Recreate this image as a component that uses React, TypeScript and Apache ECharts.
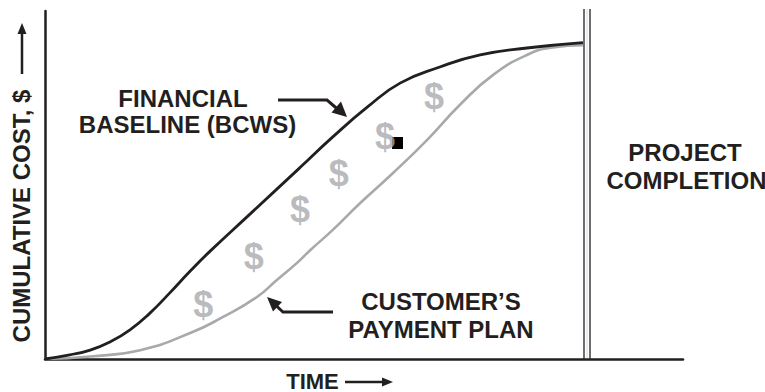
import React, { useEffect, useRef } from "react";
import * as echarts from "echarts";

// Financial baseline (BCWS) – cumulative cost vs time (% of project)
const baselineTime = [0, 4.6, 8.4, 12.1, 15.8, 19.5, 23.2, 27.0, 30.7, 38.1, 47.4, 53.5, 59.9, 66.0, 73.4, 80.9, 89.6, 100];
const baselineCost = [0, 1.3, 2.8, 5.4, 9.2, 14.5, 20.9, 27.8, 34.1, 45.8, 60.5, 70.2, 79.6, 87.2, 92.3, 96.1, 98.3, 100];

// Customer's payment plan
const paymentTime = [0, 8.4, 17.7, 27.0, 33.1, 39.4, 43.1, 46.8, 49.3, 53.5, 58.6, 64.7, 71.0, 77.1, 83.3, 89.6, 94.4, 100];
const paymentCost = [0, 0.8, 2.8, 8.2, 13.3, 19.6, 25.0, 30.3, 34.4, 40.8, 49.3, 58.8, 69.2, 80.3, 89.8, 96.1, 98.5, 99.2];

// "$" markers between the curves
const dollarTime = [29.4, 38.8, 47.4, 54.6, 63.2, 72.3];
const dollarCost = [17.1, 32.3, 47.2, 58.5, 70.3, 82.9];

const INK = "#231f20";
const GREY = "#a7a9ac";
const FONT = '"Liberation Sans", Arial, Helvetica, sans-serif';

export default function App() {
  const ref = useRef<HTMLDivElement>(null);

  useEffect(() => {
    if (!ref.current) return;
    document.body.style.margin = "0";
    const chart = echarts.init(ref.current, null, { renderer: "svg" });

    const txt = (text: string, x: number, y: number, size = 24, extra: any = {}) => ({
      type: "text",
      x,
      y,
      ...extra,
      style: {
        text,
        fill: INK,
        font: `bold ${size}px ${FONT}`,
        align: "center",
        verticalAlign: "middle",
      },
    });

    const option: any = {
      animation: false,
      backgroundColor: "#ffffff",
      grid: { left: 45, right: 82, top: 11, bottom: 33 },
      xAxis: {
        type: "value",
        min: 0,
        max: 118.6,
        axisLine: { show: true, lineStyle: { color: INK, width: 2.5 } },
        axisTick: { show: false },
        axisLabel: { show: false },
        splitLine: { show: false },
      },
      yAxis: {
        type: "value",
        min: 0,
        max: 110,
        axisLine: { show: true, lineStyle: { color: INK, width: 2.5 } },
        axisTick: { show: false },
        axisLabel: { show: false },
        splitLine: { show: false },
      },
      series: [
        {
          type: "line",
          data: paymentTime.map((t, i) => [t, paymentCost[i]]),
          smooth: 0.5,
          showSymbol: false,
          lineStyle: { color: GREY, width: 2.6 },
          z: 2,
        },
        {
          type: "line",
          data: baselineTime.map((t, i) => [t, baselineCost[i]]),
          smooth: 0.5,
          showSymbol: false,
          lineStyle: { color: INK, width: 2.8 },
          z: 3,
        },
        {
          type: "scatter",
          data: dollarTime.map((t, i) => [t, dollarCost[i]]),
          symbolSize: 0,
          label: {
            show: true,
            position: "inside",
            formatter: "$",
            color: GREY,
            fontFamily: FONT,
            fontWeight: "bold",
            fontSize: 36,
          },
          z: 1,
        },
      ],
      graphic: [
        // project completion double line
        { type: "line", shape: { x1: 584, y1: 9, x2: 584, y2: 359 }, style: { stroke: "#6d6e71", lineWidth: 2 } },
        { type: "line", shape: { x1: 590, y1: 9, x2: 590, y2: 359 }, style: { stroke: "#6d6e71", lineWidth: 2 } },
        { type: "line", shape: { x1: 587, y1: 9, x2: 587, y2: 359 }, style: { stroke: "#d9d9d9", lineWidth: 1 } },
        // black marker square
        { type: "rect", shape: { x: 392, y: 137, width: 11, height: 12 }, style: { fill: "#000" } },
        // labels
        txt("FINANCIAL", 183, 98),
        txt("BASELINE (BCWS)", 187.5, 124),
        txt("CUSTOMER\u2019S", 441, 301),
        txt("PAYMENT PLAN", 441, 329),
        txt("PROJECT", 685, 152),
        txt("COMPLETION", 686.5, 180),
        txt("TIME", 312.5, 381, 22),
        txt("CUMULATIVE COST, $", 21, 216, 24, { rotation: Math.PI / 2 }),
        // time arrow
        { type: "line", shape: { x1: 345, y1: 382, x2: 384, y2: 382 }, style: { stroke: INK, lineWidth: 2.5 } },
        { type: "polygon", shape: { points: [[393, 382], [382, 377.5], [382, 386.5]] }, style: { fill: INK } },
        // y arrow
        { type: "line", shape: { x1: 22, y1: 74, x2: 22, y2: 32 }, style: { stroke: INK, lineWidth: 2.5 } },
        { type: "polygon", shape: { points: [[22, 23], [17.5, 34], [26.5, 34]] }, style: { fill: INK } },
        // financial baseline pointer
        { type: "polyline", shape: { points: [[278, 100], [327, 100], [338, 109.5]] }, style: { stroke: INK, lineWidth: 3, fill: null } },
        { type: "polygon", shape: { points: [[347, 117], [331.5, 112.5], [341, 101.5]] }, style: { fill: INK } },
        // payment plan pointer
        { type: "polyline", shape: { points: [[333, 312], [283, 312], [276, 305.5]] }, style: { stroke: INK, lineWidth: 3, fill: null } },
        { type: "polygon", shape: { points: [[267, 297], [282, 302], [273, 311.5]] }, style: { fill: INK } },
      ],
    };

    chart.setOption(option);
    return () => chart.dispose();
  }, []);

  return <div ref={ref} style={{ width: 765, height: 392 }} />;
}
